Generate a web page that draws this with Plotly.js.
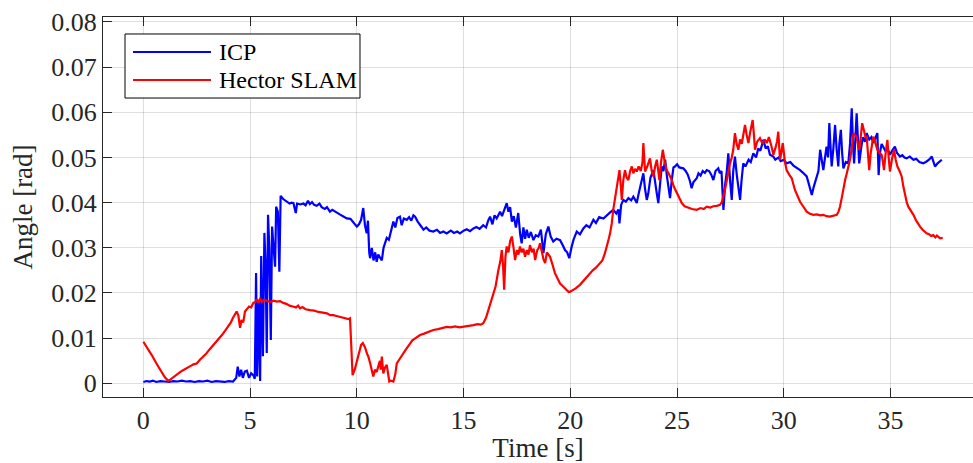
<!DOCTYPE html>
<html>
<head>
<meta charset="utf-8">
<script src="https://cdn.plot.ly/plotly-3.0.1.min.js"></script>
<style>html,body{margin:0;padding:0;background:#fff;overflow:hidden}#chart{width:973px;height:463px}</style>
</head>
<body>
<div id="chart"></div>
<script>
// ICP series: [time s, angle rad]
const icpT = [0.0,0.15,0.3,0.45,0.6,0.8,1.0,1.2,1.4,1.6,1.8,2.0,2.2,2.4,2.6,2.8,3.0,3.2,3.4,3.6,3.8,4.0,4.2,4.35,4.42,4.5,4.58,4.66,4.75,4.85,4.95,5.05,5.15,5.22,5.28,5.33,5.4,5.47,5.52,5.6,5.67,5.73,5.78,5.84,5.9,5.97,6.03,6.1,6.17,6.22,6.3,6.37,6.43,6.55,6.7,6.85,6.95,7.03,7.1,7.14,7.2,7.35,7.5,7.6,7.71,7.8,7.9,8.0,8.12,8.25,8.35,8.5,8.6,8.74,8.85,9.06,9.2,9.35,9.53,9.7,9.85,10.0,10.1,10.2,10.3,10.38,10.46,10.52,10.58,10.62,10.7,10.78,10.86,10.93,11.0,11.08,11.17,11.25,11.33,11.4,11.5,11.6,11.71,11.8,11.9,12.02,12.1,12.2,12.34,12.45,12.55,12.65,12.73,12.85,12.95,13.05,13.12,13.25,13.4,13.58,13.75,13.9,14.05,14.21,14.4,14.55,14.7,14.83,15.0,15.15,15.3,15.46,15.6,15.75,15.92,16.05,16.15,16.24,16.35,16.45,16.55,16.71,16.8,16.9,17.02,17.1,17.18,17.26,17.35,17.45,17.56,17.65,17.72,17.8,17.88,17.96,18.05,18.15,18.27,18.38,18.5,18.62,18.74,18.85,18.97,19.08,19.2,19.35,19.52,19.65,19.75,19.85,19.95,20.05,20.15,20.3,20.45,20.61,20.75,20.9,21.08,21.2,21.35,21.55,21.7,21.85,22.01,22.15,22.25,22.3,22.38,22.48,22.6,22.72,22.85,22.95,23.05,23.11,23.2,23.3,23.42,23.5,23.58,23.65,23.75,23.89,23.97,24.05,24.12,24.2,24.28,24.36,24.44,24.52,24.6,24.67,24.75,24.83,24.9,25.0,25.1,25.29,25.4,25.5,25.6,25.68,25.76,25.85,25.92,26.0,26.1,26.2,26.3,26.39,26.5,26.6,26.7,26.8,26.93,27.0,27.08,27.17,27.25,27.33,27.4,27.48,27.56,27.63,27.71,27.8,27.87,27.95,28.02,28.1,28.2,28.35,28.45,28.57,28.7,28.8,28.9,29.04,29.15,29.25,29.35,29.51,29.6,29.75,29.85,30.0,30.13,30.3,30.45,30.6,30.76,30.9,31.07,31.15,31.25,31.31,31.4,31.54,31.62,31.7,31.78,31.85,31.93,32.0,32.07,32.13,32.18,32.24,32.32,32.4,32.47,32.55,32.6,32.67,32.73,32.79,32.9,33.02,33.1,33.18,33.24,33.29,33.35,33.41,33.47,33.53,33.62,33.7,33.8,33.88,34.0,34.1,34.19,34.3,34.38,34.44,34.5,34.58,34.66,34.75,34.85,34.97,35.07,35.2,35.3,35.44,35.55,35.65,35.75,35.9,36.07,36.2,36.35,36.53,36.65,36.8,36.93,37.0,37.08,37.2,37.3,37.4];
const icpY = [0.0003,0.0005,0.0004,0.0006,0.0003,0.0005,0.0004,0.0003,0.0005,0.0004,0.0006,0.0004,0.0005,0.0003,0.0005,0.0004,0.0006,0.0003,0.0005,0.0004,0.0003,0.0005,0.0004,0.0012,0.0037,0.0015,0.003,0.0012,0.0026,0.0028,0.0012,0.0022,0.0018,0.001,0.0244,0.0015,0.018,0.0005,0.0282,0.006,0.0333,0.0256,0.0067,0.0373,0.03,0.0096,0.0347,0.03,0.0258,0.0391,0.038,0.0247,0.0415,0.0408,0.0402,0.0398,0.04,0.0399,0.0385,0.0377,0.0398,0.0396,0.0398,0.0394,0.0404,0.0397,0.0401,0.0395,0.0393,0.0398,0.039,0.0386,0.039,0.038,0.0384,0.0377,0.0374,0.037,0.0365,0.0364,0.0356,0.0347,0.0352,0.0362,0.0388,0.035,0.0332,0.036,0.029,0.0277,0.03,0.0272,0.029,0.0269,0.0285,0.028,0.0272,0.03,0.031,0.0322,0.0318,0.034,0.0358,0.0345,0.0366,0.0369,0.035,0.0365,0.0362,0.0368,0.036,0.0372,0.0369,0.0358,0.035,0.0345,0.034,0.0345,0.0338,0.0336,0.034,0.0333,0.0336,0.0332,0.0338,0.0333,0.0336,0.0332,0.0338,0.0341,0.0337,0.0343,0.0346,0.0342,0.035,0.0345,0.036,0.0369,0.0352,0.0372,0.0365,0.038,0.037,0.0385,0.0399,0.038,0.039,0.0358,0.037,0.0345,0.0377,0.033,0.031,0.0345,0.032,0.034,0.0322,0.0335,0.0317,0.0328,0.0325,0.034,0.0288,0.033,0.0347,0.0325,0.0314,0.032,0.0317,0.0305,0.0295,0.029,0.0277,0.03,0.0318,0.0336,0.033,0.0343,0.035,0.0345,0.0362,0.0355,0.0368,0.0365,0.0372,0.0378,0.0384,0.0376,0.0385,0.0354,0.0395,0.0406,0.0402,0.041,0.0405,0.0413,0.0405,0.0399,0.042,0.044,0.0465,0.043,0.0406,0.042,0.0455,0.0472,0.044,0.042,0.0399,0.045,0.048,0.047,0.0495,0.046,0.043,0.041,0.045,0.0478,0.048,0.0485,0.0478,0.0476,0.047,0.0462,0.0448,0.0432,0.0445,0.045,0.0454,0.0465,0.046,0.047,0.0466,0.0472,0.047,0.0462,0.045,0.047,0.0476,0.0465,0.047,0.0384,0.044,0.047,0.0509,0.045,0.0406,0.047,0.0502,0.046,0.043,0.0406,0.045,0.0487,0.048,0.0495,0.049,0.0509,0.05,0.052,0.0515,0.0539,0.052,0.0525,0.0506,0.0502,0.0495,0.05,0.0492,0.0495,0.0487,0.049,0.0482,0.0478,0.0472,0.0466,0.0458,0.0445,0.043,0.0417,0.0435,0.0458,0.047,0.0517,0.049,0.0472,0.05,0.0524,0.05,0.0576,0.053,0.048,0.052,0.0572,0.052,0.048,0.053,0.0561,0.051,0.0476,0.049,0.0487,0.053,0.0609,0.053,0.0487,0.054,0.0598,0.054,0.0487,0.052,0.0545,0.0535,0.0554,0.054,0.0545,0.0532,0.0545,0.0554,0.0461,0.051,0.053,0.0524,0.0515,0.052,0.0506,0.0515,0.0524,0.051,0.0502,0.0505,0.05,0.0498,0.0502,0.0495,0.0497,0.049,0.0487,0.049,0.0495,0.0502,0.0492,0.048,0.0487,0.0492,0.0495];

// Hector SLAM series
const hecT = [0.0,0.2,0.4,0.6,0.8,1.0,1.17,1.3,1.45,1.6,1.75,1.9,2.05,2.2,2.35,2.5,2.65,2.8,2.95,3.1,3.28,3.4,3.55,3.7,3.85,4.0,4.1,4.2,4.3,4.37,4.45,4.53,4.6,4.68,4.76,4.85,4.95,5.05,5.15,5.25,5.31,5.4,5.47,5.55,5.65,5.8,5.95,6.1,6.25,6.4,6.55,6.7,6.85,7.0,7.15,7.25,7.34,7.45,7.6,7.81,8.0,8.2,8.4,8.6,8.75,8.9,9.05,9.22,9.4,9.6,9.68,9.74,9.8,9.9,10.0,10.1,10.2,10.28,10.38,10.48,10.54,10.62,10.7,10.77,10.85,10.93,11.0,11.08,11.12,11.17,11.24,11.32,11.4,11.46,11.52,11.6,11.71,11.8,11.87,11.95,12.05,12.18,12.3,12.4,12.49,12.6,12.75,12.96,13.15,13.35,13.58,13.8,14.0,14.21,14.4,14.6,14.8,14.99,15.2,15.46,15.65,15.8,15.92,16.05,16.16,16.25,16.39,16.5,16.63,16.72,16.79,16.85,16.9,16.96,17.02,17.1,17.18,17.26,17.34,17.41,17.5,17.57,17.64,17.72,17.8,17.88,17.96,18.04,18.11,18.2,18.28,18.35,18.45,18.52,18.58,18.66,18.74,18.82,18.9,18.98,19.05,19.15,19.28,19.4,19.52,19.65,19.75,19.83,19.92,19.99,20.1,20.25,20.45,20.6,20.75,20.92,21.05,21.2,21.39,21.5,21.62,21.7,21.8,21.86,21.94,22.01,22.1,22.17,22.25,22.3,22.36,22.41,22.48,22.56,22.64,22.72,22.8,22.88,22.95,23.03,23.11,23.2,23.3,23.38,23.42,23.46,23.5,23.6,23.73,23.81,23.89,23.97,24.05,24.12,24.17,24.25,24.33,24.42,24.51,24.6,24.75,24.85,24.98,25.1,25.22,25.35,25.53,25.7,25.92,26.1,26.25,26.39,26.55,26.7,26.86,27.01,27.1,27.17,27.25,27.33,27.4,27.48,27.56,27.63,27.71,27.79,27.87,27.95,28.03,28.1,28.18,28.26,28.34,28.42,28.54,28.6,28.65,28.75,28.88,29.0,29.1,29.2,29.3,29.42,29.51,29.6,29.68,29.74,29.82,29.88,29.95,30.05,30.13,30.25,30.37,30.52,30.65,30.76,30.9,31.07,31.2,31.38,31.55,31.7,31.85,32.0,32.16,32.3,32.48,32.56,32.63,32.71,32.79,32.87,32.95,33.02,33.1,33.18,33.26,33.33,33.41,33.47,33.53,33.6,33.67,33.75,33.82,33.88,33.94,34.0,34.07,34.13,34.19,34.27,34.38,34.48,34.58,34.64,34.69,34.77,34.85,34.91,34.97,35.06,35.16,35.24,35.32,35.42,35.52,35.6,35.68,35.76,35.83,35.95,36.07,36.2,36.3,36.38,36.5,36.6,36.69,36.8,36.9,37.0,37.1,37.17,37.24,37.32,37.44];
const hecY = [0.0092,0.0078,0.0062,0.0045,0.003,0.0014,0.0005,0.001,0.0016,0.0022,0.0026,0.003,0.0035,0.0038,0.0042,0.0044,0.0052,0.0058,0.0066,0.0075,0.0085,0.009,0.0098,0.0108,0.0118,0.0128,0.0135,0.0145,0.0152,0.0159,0.015,0.0123,0.014,0.0135,0.0159,0.0165,0.017,0.0168,0.0178,0.018,0.0186,0.0178,0.0189,0.018,0.0185,0.0182,0.018,0.0183,0.0181,0.0182,0.0178,0.0176,0.0172,0.017,0.0168,0.0172,0.0166,0.0169,0.0164,0.0162,0.0161,0.0158,0.0157,0.0155,0.0151,0.0151,0.0149,0.0147,0.0146,0.0142,0.0144,0.006,0.0018,0.003,0.005,0.007,0.0085,0.0089,0.008,0.0065,0.0059,0.0045,0.003,0.0015,0.003,0.0025,0.0037,0.005,0.003,0.0059,0.0022,0.0035,0.0041,0.002,0.0004,0.0006,0.0004,0.002,0.0044,0.005,0.0058,0.0066,0.0075,0.0082,0.0089,0.0095,0.01,0.0107,0.011,0.0114,0.0118,0.012,0.0123,0.0125,0.0124,0.0126,0.0124,0.0125,0.0127,0.0129,0.0131,0.013,0.0133,0.0145,0.0162,0.0175,0.0199,0.0215,0.0251,0.027,0.0295,0.026,0.0207,0.028,0.0303,0.029,0.0315,0.0325,0.03,0.0273,0.0295,0.0285,0.0303,0.029,0.0298,0.028,0.0295,0.0285,0.0306,0.029,0.0298,0.0273,0.0295,0.03,0.031,0.029,0.0275,0.0266,0.029,0.0285,0.028,0.0265,0.0244,0.0232,0.0221,0.0215,0.021,0.0207,0.0202,0.0203,0.0206,0.021,0.0218,0.0226,0.0235,0.0244,0.025,0.0256,0.0266,0.0272,0.0288,0.03,0.032,0.0332,0.0354,0.0384,0.041,0.043,0.045,0.0472,0.044,0.0406,0.045,0.0472,0.0455,0.045,0.047,0.048,0.0465,0.0475,0.0469,0.048,0.047,0.049,0.0532,0.05,0.0469,0.048,0.0498,0.047,0.0458,0.048,0.0495,0.047,0.045,0.049,0.0517,0.049,0.0472,0.0465,0.045,0.0435,0.0421,0.0408,0.0399,0.0392,0.0388,0.0386,0.0384,0.0388,0.0386,0.0391,0.0389,0.0392,0.0393,0.0395,0.0402,0.0413,0.043,0.045,0.047,0.0487,0.05,0.0517,0.0554,0.053,0.0517,0.054,0.053,0.0555,0.0572,0.055,0.0532,0.0555,0.0583,0.055,0.0517,0.0535,0.0543,0.053,0.054,0.0532,0.0545,0.0525,0.0506,0.052,0.0535,0.0557,0.0495,0.051,0.0532,0.049,0.0472,0.0462,0.0454,0.0428,0.0412,0.0402,0.0392,0.038,0.0376,0.0373,0.0374,0.0372,0.0373,0.037,0.0369,0.0371,0.0373,0.038,0.0391,0.041,0.0435,0.045,0.0465,0.048,0.0495,0.052,0.0554,0.055,0.0546,0.053,0.0517,0.0545,0.0576,0.056,0.0545,0.0546,0.051,0.0472,0.051,0.053,0.0546,0.0535,0.0517,0.051,0.0506,0.049,0.0472,0.051,0.0539,0.05,0.0469,0.0495,0.0517,0.0495,0.048,0.047,0.0458,0.0435,0.0413,0.04,0.0391,0.0382,0.0373,0.036,0.0352,0.0347,0.034,0.0335,0.0332,0.033,0.0326,0.0328,0.0323,0.0327,0.0324,0.0321,0.0322];

const seriesNames = ['ICP', 'Hector SLAM'];
const seriesColors = ['#0000ff', '#ff0000'];
const xTicks = [0, 5, 10, 15, 20, 25, 30, 35];
const yTicks = [0, 0.01, 0.02, 0.03, 0.04, 0.05, 0.06, 0.07, 0.08];
const yTickText = ['0', '0.01', '0.02', '0.03', '0.04', '0.05', '0.06', '0.07', '0.08'];

const FONT = '"Liberation Serif", "Times New Roman", serif';
const AX = '#262626';
const GRID = 'rgba(38,38,38,0.15)';

const traces = [
  {x: icpT, y: icpY, type: 'scatter', mode: 'lines', name: seriesNames[0],
   line: {color: seriesColors[0], width: 2.2}, showlegend: false},
  {x: hecT, y: hecY, type: 'scatter', mode: 'lines', name: seriesNames[1],
   line: {color: seriesColors[1], width: 2.2}, showlegend: false}
];

// Legend box drawn in paper coordinates (MATLAB-style legend)
const legBox = {x0: 0.0253, x1: 0.2954, y0: 0.7868, y1: 0.9553};
const legRows = [0.9079, 0.8342];
const shapes = [
  {type: 'rect', xref: 'paper', yref: 'paper', x0: legBox.x0, x1: legBox.x1, y0: legBox.y0, y1: legBox.y1,
   line: {color: '#000', width: 1}, fillcolor: '#fff', layer: 'above'}
];
const annotations = [];
seriesNames.forEach((n, i) => {
  shapes.push({type: 'line', xref: 'paper', yref: 'paper', x0: 0.0345, x1: 0.1241, y0: legRows[i], y1: legRows[i],
               line: {color: seriesColors[i], width: 2.2}, layer: 'above'});
  annotations.push({xref: 'paper', yref: 'paper', x: 0.1310, y: legRows[i], xanchor: 'left', yanchor: 'middle',
                    text: n, showarrow: false, font: {family: FONT, size: 24, color: '#000'}});
});

const layout = {
  width: 973, height: 463,
  margin: {l: 103, r: 0, t: 17, b: 66},
  paper_bgcolor: '#fff', plot_bgcolor: '#fff',
  font: {family: FONT, size: 26, color: AX},
  showlegend: false,
  shapes: shapes,
  annotations: annotations,
  xaxis: {
    range: [-1.89, 38.86], tickvals: xTicks, ticktext: xTicks.map(String),
    ticks: 'inside', ticklen: 9, tickwidth: 1, tickcolor: AX,
    showline: true, linecolor: AX, linewidth: 1, mirror: 'ticks',
    showgrid: true, gridcolor: GRID, gridwidth: 1, zeroline: false,
    tickfont: {family: FONT, size: 26, color: AX},
    title: {text: 'Time [s]', font: {family: FONT, size: 27, color: AX}, standoff: 4}
  },
  yaxis: {
    range: [-0.00303, 0.0811], tickvals: yTicks, ticktext: yTickText,
    ticks: 'inside', ticklen: 9, tickwidth: 1, tickcolor: AX,
    showline: true, linecolor: AX, linewidth: 1, mirror: false,
    showgrid: true, gridcolor: GRID, gridwidth: 1, zeroline: false,
    tickfont: {family: FONT, size: 26, color: AX},
    title: {text: 'Angle [rad]', font: {family: FONT, size: 27, color: AX}, standoff: 10}
  }
};

Plotly.newPlot('chart', traces, layout, {displayModeBar: false, staticPlot: true});
</script>
</body>
</html>
